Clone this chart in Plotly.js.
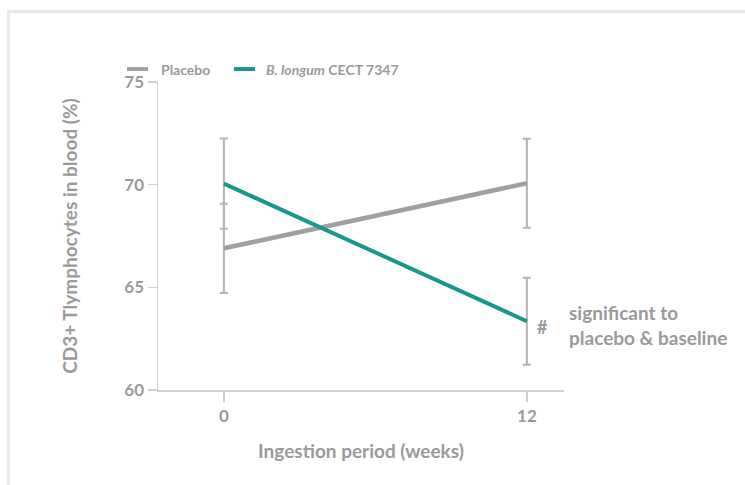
<!DOCTYPE html>
<html>
<head>
<meta charset="utf-8">
<script src="https://cdn.plot.ly/plotly-3.0.1.min.js"></script>
<style>
  html, body { margin: 0; padding: 0; background: #ffffff; }
  #frame { position: absolute; left: 7px; top: 10px; width: 900px; height: 700px; border: 3px solid #e8e8e8; box-sizing: border-box; }
  #chart { position: absolute; left: 0; top: 0; width: 745px; height: 485px; }
</style>
</head>
<body>
<div id="frame"></div>
<div id="chart"></div>
<script>
// Data
const weeks = [0, 12];
const placeboMean = [66.9, 70.07];
const placeboErr = [2.17, 2.17];
const longumMean = [70.05, 63.35];
const longumErr = [2.2, 2.12];
const seriesNames = ["Placebo", "<i>B. longum</i> CECT 7347"];
const seriesColors = ["#a0a0a0", "#17988d"];
const yTicks = [60, 65, 70, 75];
const xTicks = [0, 12];
const noteMark = "#";
const noteText = "significant to<br>placebo & baseline";

const textGray = "#9a9a9a";
const FONT = "Lato, 'Open Sans', sans-serif";

const traces = [
  {
    x: weeks, y: placeboMean, name: seriesNames[0], type: "scatter", mode: "lines",
    line: { color: seriesColors[0], width: 4.5 },
    error_y: { type: "data", array: placeboErr, visible: true, color: "#b4b4b4", thickness: 2, width: 4 }
  },
  {
    x: weeks, y: longumMean, name: seriesNames[1], type: "scatter", mode: "lines",
    line: { color: seriesColors[1], width: 4 },
    error_y: { type: "data", array: longumErr, visible: true, color: "#b4b4b4", thickness: 2, width: 4 }
  }
];

// Legend drawn as shapes + annotations (to match sample/text spacing)
const legendY = 1.042;
const legendItems = [
  { x0: -0.0764, x1: -0.0246, tx: 0.0025 },
  { x0: 0.1872, x1: 0.2389, tx: 0.2611 }
];
const legendShapes = legendItems.map((it, i) => ({
  type: "line", xref: "paper", yref: "paper",
  x0: it.x0, x1: it.x1, y0: legendY, y1: legendY,
  line: { color: seriesColors[i], width: 4 }
}));
const legendTexts = legendItems.map((it, i) => ({
  xref: "paper", yref: "paper", x: it.tx, y: legendY, text: seriesNames[i],
  showarrow: false, xanchor: "left", yanchor: "middle",
  font: { family: FONT, size: 14, color: textGray, weight: "bold" }
}));

const layout = {
  width: 745, height: 485,
  margin: { l: 158, r: 181, t: 82, b: 95 },
  paper_bgcolor: "rgba(0,0,0,0)",
  plot_bgcolor: "rgba(0,0,0,0)",
  font: { family: FONT, color: textGray, size: 15 },
  showlegend: false,
  xaxis: {
    range: [-2.61, 13.47],
    tickvals: xTicks, ticktext: xTicks.map(String),
    ticks: "outside", ticklen: 10, tickwidth: 1.5, tickcolor: "#cfcfcf",
    showline: true, linecolor: "#cfcfcf", linewidth: 1.5,
    showgrid: false, zeroline: false,
    tickfont: { family: FONT, size: 17, color: textGray, weight: "bold" },
    title: { text: "Ingestion period (weeks)", standoff: 20, font: { family: FONT, size: 19, color: textGray, weight: "bold" } }
  },
  yaxis: {
    range: [60, 75],
    tickvals: yTicks, ticktext: yTicks.map(String),
    ticks: "outside", ticklen: 9, tickwidth: 1.5, tickcolor: "#cfcfcf",
    showline: true, linecolor: "#cfcfcf", linewidth: 1.5,
    showgrid: false, zeroline: false,
    tickfont: { family: FONT, size: 17, color: textGray, weight: "bold" },
    title: { text: "CD3+ Tlymphocytes in blood (%)", standoff: 41, font: { family: FONT, size: 19, color: textGray, weight: "bold" } }
  },
  shapes: legendShapes,
  annotations: legendTexts.concat([
    {
      x: weeks[1], y: longumMean[1], xref: "x", yref: "y", text: noteMark, showarrow: false,
      xshift: 16, yshift: -6, xanchor: "center", yanchor: "middle",
      font: { family: FONT, size: 18, color: textGray, weight: "bold" }
    },
    {
      x: weeks[1], y: longumMean[1], xref: "x", yref: "y", text: noteText, showarrow: false,
      xshift: 40, yshift: -4, xanchor: "left", yanchor: "middle", align: "left",
      font: { family: FONT, size: 19, color: textGray, weight: "bold" }
    }
  ])
};

Plotly.newPlot("chart", traces, layout, { displayModeBar: false, staticPlot: true });
</script>
</body>
</html>
